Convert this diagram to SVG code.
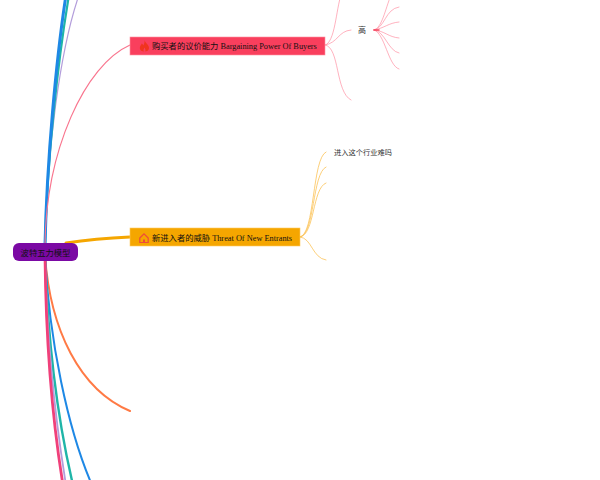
<svg xmlns="http://www.w3.org/2000/svg" width="600" height="480" viewBox="0 0 600 480">
<style>
text{font-family:"Liberation Serif","Noto Sans CJK SC",serif;fill:#111}
.t{font-size:8.3px}
.s{font-size:7.25px;fill:#333}
#connectors path{fill:none;stroke-linecap:round}
.p{stroke:#ff7f95;stroke-opacity:.6;stroke-width:1}
.y{stroke:#fbbf4d;stroke-opacity:.75;stroke-width:1}
</style>
<rect width="600" height="480" fill="#fff"/>
<g id="connectors">
<path d="M45 245C47 150 60 50 79 -5" stroke="#b39ddb" stroke-width="1.2"/>
<path d="M45 245C47 160 58 60 69 -5" stroke="#1fb5a8" stroke-width="2.2"/>
<path d="M45 245C47 160 56 60 66 -5" stroke="#1e88e5" stroke-width="3"/>
<path d="M45 245C46 150 85 65 130 45" stroke="#f9758e" stroke-width="1.2"/>
<path d="M66 243C85 240 105 238 130 237" stroke="#f5a600" stroke-width="3"/>
<path d="M45 255C50 330 80 390 130 411" stroke="#ff7a45" stroke-width="2"/>
<path d="M45 255C49 340 68 430 92 485" stroke="#1e88e5" stroke-width="2"/>
<path d="M45 255C48 350 60 430 73 485" stroke="#1fb5a8" stroke-width="2.4"/>
<path d="M45 255C47 350 57 430 66 485" stroke="#b39ddb" stroke-width="1.8"/>
<path d="M45 255C46 350 54 430 63 485" stroke="#f0407a" stroke-width="2.8"/>
<path class="p" d="M325 45C335 43 336 10 341 -5"/>
<path class="p" d="M325 45C338 43 338 31 351 30"/>
<path class="p" d="M325 45C340 47 335 92 351 100"/>
<path class="p" d="M374 30C382 28 385 10 391 -5"/>
<path class="p" d="M374 30C385 28 385 9 399 7"/>
<path class="p" d="M374 30C385 28 388 23 399 22"/>
<path class="p" d="M374 30C385 31 388 37 399 38"/>
<path class="p" d="M374 30C385 31 388 51 399 53"/>
<path class="p" d="M374 30C385 33 388 66 399 69"/>
<path d="M374 30H379" stroke="#f4475f" stroke-width="1.5"/>
<path class="y" d="M300 237C315 235 312 158 326 152"/>
<path class="y" d="M300 237C315 235 312 173 326 167"/>
<path class="y" d="M300 237C315 235 312 188 326 183"/>
<path class="y" d="M300 237C312 238 312 258 326 260"/>
</g>
<g id="root">
<rect x="13" y="243" width="65" height="18" rx="6" fill="#7b09a4"/>
<text class="t" x="45.500" y="255.500" text-anchor="middle">波特五力模型</text>
</g>
<g id="buyers">
<rect x="130" y="37" width="195" height="18" fill="#f93f5d" stroke="#ff8fa0" stroke-width=".6"/>
<path d="M144.500 40C145 43 149 44.500 149 48C149 50.500 147 51.500 144.500 51.500C142 51.500 139.800 50.500 139.800 48C139.800 46 141.300 45 141.800 43.500C142.600 44 143.200 44.800 143.300 45.500C144.200 44 144.800 42 144.500 40ZM144.500 51.500C143.300 51.500 143 50 144.500 47.500C146 50 145.700 51.500 144.500 51.500Z" fill="#f0341f" fill-rule="evenodd"/>
<text class="t" x="152" y="49">购买者的议价能力 Bargaining Power Of Buyers</text>
</g>
<g id="entrants">
<rect x="130" y="228" width="170" height="18" fill="#f5a600" stroke="#ffc95e" stroke-width=".6"/>
<path d="M139.800 238L144 233.800L148.200 238V242.500H139.800Z" fill="none" stroke="#ef4b3a" stroke-width="1.2"/>
<rect x="143" y="239.500" width="2" height="3" fill="#ef4b3a"/>
<text class="t" x="152" y="241">新进入者的威胁 Threat Of New Entrants</text>
</g>
<g id="high"><text x="358" y="33" style="font-size:8px;fill:#333">高</text></g>
<g id="hard"><text class="s" x="334" y="155">进入这个行业难吗</text></g>
</svg>
